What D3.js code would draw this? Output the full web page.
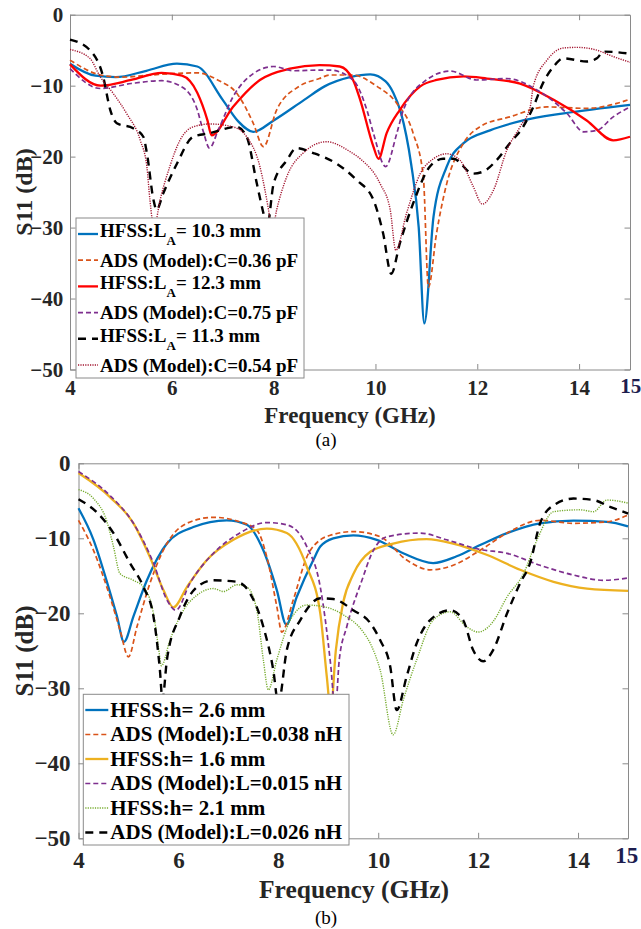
<!DOCTYPE html>
<html>
<head>
<meta charset="utf-8">
<script src="https://cdn.jsdelivr.net/npm/d3@7"></script>
<style>
body { margin: 0; background: #fff; }
svg { display: block; }
text { font-family: "Liberation Serif", "Times New Roman", serif; }
</style>
</head>
<body>
<script>
// ---- data: [frequency GHz, S11 dB] ----
var xTicks = [4, 6, 8, 10, 12, 14];
var yTicks = [-50, -40, -30, -20, -10, 0];

// panel (a)
var a_hfss103 = [[4,-6.9],[4.5,-8.6],[4.9,-8.8],[5.5,-7.9],[6.1,-6.9],[6.5,-7.3],[7.0,-12],[7.3,-15],[7.6,-16.5],[8.0,-14.9],[8.6,-12],[9.0,-10.1],[9.5,-8.8],[9.9,-8.4],[10.2,-9.4],[10.35,-11],[10.5,-13.8],[10.7,-21],[10.85,-30],[10.96,-43.5],[11.14,-28.5],[11.4,-21.4],[11.73,-18.1],[12.25,-16.3],[12.9,-14.9],[13.7,-13.9],[15,-12.7]];
var a_ads036 = [[4,-6.4],[4.6,-8.5],[5.0,-8.8],[5.6,-8.5],[6.0,-8.3],[6.5,-8.2],[6.9,-9.2],[7.3,-11.3],[7.6,-15.3],[7.8,-18.6],[8.06,-13.4],[8.5,-10.1],[8.9,-9.0],[9.1,-8.5],[9.55,-8.5],[10.03,-10.1],[10.42,-12.5],[10.74,-16.7],[10.94,-22.8],[11.04,-38.4],[11.2,-30.8],[11.4,-23.8],[11.73,-18.1],[12.05,-15.8],[12.64,-14.4],[13.37,-13.0],[14.15,-13.2],[14.74,-12.5],[15,-11.9]];
var a_hfss123 = [[4,-7],[4.6,-10],[5.2,-9.2],[5.8,-8.2],[6.2,-8.6],[6.5,-11],[6.7,-14.9],[6.78,-17],[7.2,-13],[7.73,-9.2],[8.32,-7.6],[8.9,-7.1],[9.3,-7.3],[9.56,-9.2],[9.7,-12],[9.96,-18.6],[10.06,-20.3],[10.22,-16.7],[10.48,-13.4],[10.88,-10.1],[11.2,-9.2],[11.73,-8.7],[12.19,-9.0],[12.84,-9.7],[13.5,-12],[14.15,-14.9],[14.67,-17.7],[15,-17.2]];
var a_ads075 = [[4,-7.6],[4.6,-10.4],[5.2,-9.7],[5.8,-9.3],[6.2,-10.2],[6.5,-13.4],[6.62,-16.5],[6.74,-18.8],[6.91,-16.3],[7.2,-11.6],[7.6,-8.3],[8.0,-7.3],[8.39,-7.9],[8.9,-7.8],[9.1,-7.8],[9.56,-9.2],[9.83,-13.4],[9.96,-16.7],[10.2,-21.4],[10.42,-16.7],[10.55,-13.4],[11.0,-9.2],[11.47,-7.95],[11.99,-9.2],[12.58,-9.0],[13.17,-10.6],[13.76,-13.9],[14.09,-16.5],[14.35,-16.3],[14.67,-14.4],[15,-13.0]];
var a_hfss113 = [[4,-3.5],[4.39,-5.0],[4.65,-8.7],[4.79,-13.4],[4.92,-15.3],[5.24,-16],[5.44,-17.2],[5.51,-19.5],[5.64,-26.1],[5.7,-27.5],[5.83,-25.2],[6.1,-21],[6.42,-17.2],[6.75,-16.7],[7.27,-15.8],[7.47,-17.2],[7.67,-23.8],[7.8,-28],[7.87,-30],[8.0,-23.8],[8.26,-20.5],[8.45,-18.8],[8.78,-19.5],[9.24,-21],[9.63,-23.3],[9.96,-26.1],[10.15,-30.8],[10.31,-36.5],[10.48,-32.2],[10.74,-26.6],[11.07,-21.4],[11.33,-20.3],[11.53,-20.3],[11.92,-22.4],[12.12,-22.1],[12.38,-20.5],[12.64,-18.1],[12.9,-15.8],[13.1,-13],[13.3,-9.5],[13.5,-7.3],[13.69,-6.15],[14.15,-6.6],[14.35,-6.15],[14.48,-5.2],[15,-5.5]];
var a_ads054 = [[4,-4.9],[4.39,-6.15],[4.59,-8.7],[4.85,-11.1],[5.11,-13.9],[5.38,-17.7],[5.51,-21.4],[5.57,-26.1],[5.65,-30],[5.77,-26.1],[5.96,-21.4],[6.16,-17.7],[6.42,-15.8],[6.75,-15.4],[7.2,-15.8],[7.47,-17.2],[7.73,-21.4],[7.9,-27.5],[7.97,-30.5],[8.06,-27.5],[8.26,-22.8],[8.58,-19.5],[9.04,-17.9],[9.5,-19.3],[9.7,-20.3],[10.09,-23.8],[10.29,-27.5],[10.4,-33.2],[10.61,-28],[10.88,-22.4],[11.14,-20.3],[11.4,-19.6],[11.66,-20.5],[11.92,-24.2],[12.1,-26.7],[12.32,-24.7],[12.58,-19.1],[12.84,-15.8],[13.04,-13],[13.1,-10.1],[13.37,-6.4],[13.69,-4.7],[13.95,-4.6],[14.35,-5.0],[14.67,-5.9],[15,-6.7]];
var a_labels = ["HFSS:L_A= 10.3 mm", "ADS (Model):C=0.36 pF", "HFSS:L_A= 12.3 mm",
                "ADS (Model):C=0.75 pF", "HFSS:L_A= 11.3 mm", "ADS (Model):C=0.54 pF"];

// panel (b)
var b_hfss26 = [[4,-6],[4.3,-10.2],[4.56,-15.6],[4.77,-20.4],[4.91,-23.8],[5.1,-20.4],[5.37,-15.6],[5.77,-10.7],[6.3,-8.5],[6.97,-7.6],[7.37,-8.2],[7.7,-11.6],[7.97,-16.9],[8.16,-21.5],[8.37,-17.8],[8.7,-12.9],[8.84,-11.1],[9.1,-10],[9.5,-9.6],[9.97,-10.2],[10.5,-12],[11.1,-13.3],[11.57,-12.4],[12.04,-10.9],[12.58,-9.3],[13.24,-8.0],[13.91,-7.65],[14.58,-7.8],[15,-8.4]];
var b_ads038 = [[4,-7.6],[4.3,-11.6],[4.63,-17.8],[4.83,-22.2],[5.0,-25.8],[5.17,-21.8],[5.43,-16],[5.77,-10.7],[6.17,-8.0],[6.7,-7.2],[7.23,-7.8],[7.57,-8.9],[7.77,-12.5],[7.97,-19.1],[8.07,-22.5],[8.3,-18.2],[8.57,-12.5],[8.84,-10.2],[9.04,-9.6],[9.5,-9.1],[10.04,-9.8],[10.57,-12.9],[11.04,-14.2],[11.5,-13.6],[12.04,-11.6],[12.58,-9.3],[13.24,-7.6],[13.91,-8.0],[14.58,-7.8],[15,-6.9]];
var b_hfss16 = [[4,-1.3],[4.63,-4.5],[5.1,-8],[5.43,-12.5],[5.7,-16.9],[5.9,-19.2],[6.17,-16.5],[6.57,-12.9],[7.1,-10.2],[7.77,-8.7],[8.17,-9.3],[8.57,-13.8],[8.84,-20],[8.97,-28.4],[9.05,-33],[9.15,-25],[9.3,-18.5],[9.5,-14.8],[9.84,-11.8],[10.3,-10.7],[10.97,-10.1],[11.5,-10.7],[12.17,-12.2],[12.84,-14.2],[13.51,-15.8],[14.18,-16.7],[15,-17.0]];
var b_ads015 = [[4,-1.1],[4.63,-4.3],[5.1,-8],[5.5,-13.3],[5.77,-18.2],[5.95,-19.6],[6.23,-16],[6.7,-12],[7.23,-9.3],[7.77,-7.9],[8.17,-8.2],[8.57,-11.1],[8.84,-16.5],[9.05,-27],[9.14,-33],[9.22,-26.2],[9.37,-21.8],[9.7,-15.1],[9.84,-12.5],[10.17,-9.8],[10.84,-9.3],[11.37,-10.2],[12.04,-11.5],[12.58,-12],[13.24,-13.6],[13.91,-14.9],[14.51,-15.6],[15,-15.3]];
var b_hfss21 = [[4,-3.5],[4.3,-4.7],[4.56,-7.6],[4.7,-11.1],[4.83,-14.7],[5.1,-15.6],[5.3,-16.5],[5.5,-20],[5.6,-24.5],[5.66,-27],[5.83,-23.6],[6.1,-19.6],[6.37,-17.6],[6.7,-16.7],[6.9,-17.1],[7.17,-16.2],[7.37,-16.5],[7.57,-19.6],[7.7,-26.2],[7.8,-30.2],[7.97,-26.2],[8.24,-20.9],[8.57,-18.9],[8.9,-19.1],[9.3,-20.2],[9.7,-22.5],[9.84,-24],[10.04,-27.6],[10.3,-36.2],[10.5,-31.6],[10.77,-26.2],[11.1,-20.9],[11.44,-19.8],[11.77,-21.8],[12.0,-22.5],[12.3,-21.1],[12.58,-17.8],[12.91,-14.7],[13.18,-10.2],[13.51,-6.45],[14.04,-6.2],[14.31,-6.45],[14.58,-4.9],[15,-5.3]];
var b_ads026 = [[4,-4.8],[4.36,-6.5],[4.7,-9.3],[5.03,-13.3],[5.3,-16.5],[5.5,-20.4],[5.63,-27.6],[5.68,-31.5],[5.77,-26.2],[6.03,-20.4],[6.37,-16.5],[6.7,-15.6],[7.17,-15.8],[7.43,-17.3],[7.7,-21.8],[7.9,-27.6],[8.0,-32],[8.17,-24.9],[8.44,-20.9],[8.84,-18],[9.1,-18.1],[9.5,-19.6],[9.84,-21.3],[10.04,-23.6],[10.24,-27.1],[10.37,-32.9],[10.57,-28.4],[10.77,-24],[11.04,-20.9],[11.44,-19.6],[11.7,-20.9],[11.9,-24.9],[12.1,-26.4],[12.3,-24.9],[12.58,-20],[12.84,-16],[13.04,-13.3],[13.24,-8],[13.51,-5.6],[13.91,-4.7],[14.31,-4.9],[14.64,-5.8],[15,-6.7]];
var b_labels = ["HFSS:h= 2.6 mm", "ADS (Model):L=0.038 nH", "HFSS:h= 1.6 mm",
                "ADS (Model):L=0.015 nH", "HFSS:h= 2.1 mm", "ADS (Model):L=0.026 nH"];

var width = 641;
var height = 929;

var svg = d3.select("body").append("svg")
            .attr("width", width)
            .attr("height", height);

var panelA = {
    left: 70, right: 630, top: 14.7, bottom: 369.5,
    tickFs: 21, xPad: 10.6, yPad: 6.7,
    fifteen: [630.8, 393],
    xTitle: [350, 423, 23], yTitle: [31.5, 192, 24],
    caption: ["(a)", 326, 446],
    lg: { x: 76, y: 218, w: 228, h: 160, first: 16, step: 26.2, sample: 20, fs: 19 },
    series: [
        { data: a_hfss103, label: a_labels[0], color: "#0072BD", w: 2.3, dash: null },
        { data: a_ads036,  label: a_labels[1], color: "#D95319", w: 1.7, dash: "5,3" },
        { data: a_hfss123, label: a_labels[2], color: "#FF0000", w: 2.3, dash: null },
        { data: a_ads075,  label: a_labels[3], color: "#7E2F8E", w: 1.7, dash: "5,3" },
        { data: a_hfss113, label: a_labels[4], color: "#000000", w: 2.4, dash: "8,6" },
        { data: a_ads054,  label: a_labels[5], color: "#A2142F", w: 1.4, dash: "1.2,1.2" }
    ]
};

var panelB = {
    left: 78.5, right: 628, top: 463.3, bottom: 838.3,
    tickFs: 23, xPad: 13.4, yPad: 8,
    fifteen: [626.7, 863],
    xTitle: [354, 898, 25.5], yTitle: [33.3, 651, 25],
    caption: ["(b)", 326, 924],
    lg: { x: 83.3, y: 694.3, w: 265.7, h: 150.7, first: 15.7, step: 24.5, sample: 23, fs: 21 },
    series: [
        { data: b_hfss26, label: b_labels[0], color: "#0072BD", w: 2.3, dash: null },
        { data: b_ads038, label: b_labels[1], color: "#D95319", w: 1.7, dash: "5,3" },
        { data: b_hfss16, label: b_labels[2], color: "#EDB120", w: 2.3, dash: null },
        { data: b_ads015, label: b_labels[3], color: "#7E2F8E", w: 1.7, dash: "5,3" },
        { data: b_hfss21, label: b_labels[4], color: "#77AC30", w: 1.4, dash: "1.2,1.2" },
        { data: b_ads026, label: b_labels[5], color: "#000000", w: 2.4, dash: "8,6" }
    ]
};

function styleAxis(sel, fs) {
    sel.select(".domain").attr("stroke", "#8a8a8a");
    sel.selectAll(".tick line").attr("stroke", "#8a8a8a");
    sel.selectAll(".tick text")
        .attr("fill", "#262626")
        .attr("font-family", "'Liberation Serif', 'Times New Roman', serif")
        .attr("font-weight", "bold")
        .attr("font-size", fs);
}

function drawPanel(p) {
    var x = d3.scaleLinear().domain([4, 15]).range([p.left, p.right]);
    var y = d3.scaleLinear().domain([-50, 0]).range([p.bottom, p.top]);
    var g = svg.append("g");

    // box + ticks (inward)
    var bottomAx = g.append("g").attr("transform", "translate(0," + p.bottom + ")")
        .call(d3.axisBottom(x).tickValues(xTicks).tickSizeInner(-5.5).tickSizeOuter(0).tickPadding(p.xPad));
    styleAxis(bottomAx, p.tickFs);
    var topAx = g.append("g").attr("transform", "translate(0," + p.top + ")")
        .call(d3.axisTop(x).tickValues(xTicks).tickSizeInner(-5.5).tickSizeOuter(0).tickFormat(""));
    styleAxis(topAx, p.tickFs);
    var leftAx = g.append("g").attr("transform", "translate(" + p.left + ",0)")
        .call(d3.axisLeft(y).tickValues(yTicks).tickSizeInner(-5.5).tickSizeOuter(0).tickPadding(p.yPad));
    styleAxis(leftAx, p.tickFs);
    var rightAx = g.append("g").attr("transform", "translate(" + p.right + ",0)")
        .call(d3.axisRight(y).tickValues(yTicks).tickSizeInner(-5.5).tickSizeOuter(0).tickFormat(""));
    styleAxis(rightAx, p.tickFs);

    // the lone "15" at the right end
    g.append("text")
        .attr("x", p.fifteen[0]).attr("y", p.fifteen[1])
        .attr("text-anchor", "middle")
        .attr("font-weight", "bold")
        .attr("font-size", p.tickFs)
        .attr("fill", "#1d1d4f")
        .text("15");

    // curves
    var line = d3.line()
        .x(function(d) { return x(d[0]); })
        .y(function(d) { return y(d[1]); })
        .curve(d3.curveMonotoneX);

    p.series.forEach(function(s) {
        g.append("path")
            .datum(s.data)
            .attr("d", line)
            .attr("fill", "none")
            .attr("stroke", s.color)
            .attr("stroke-width", s.w)
            .attr("stroke-dasharray", s.dash)
            .attr("stroke-linejoin", "round");
    });

    // axis titles
    g.append("text")
        .attr("x", p.xTitle[0]).attr("y", p.xTitle[1])
        .attr("text-anchor", "middle")
        .attr("font-weight", "bold")
        .attr("font-size", p.xTitle[2])
        .attr("fill", "#262626")
        .text("Frequency (GHz)");

    g.append("text")
        .attr("transform", "translate(" + p.yTitle[0] + "," + p.yTitle[1] + ") rotate(-90)")
        .attr("text-anchor", "middle")
        .attr("font-weight", "bold")
        .attr("font-size", p.yTitle[2])
        .attr("fill", "#262626")
        .text("S11 (dB)");

    g.append("text")
        .attr("x", p.caption[1]).attr("y", p.caption[2])
        .attr("text-anchor", "middle")
        .attr("font-size", 19)
        .attr("fill", "#000")
        .text(p.caption[0]);

    // legend
    var L = p.lg;
    var lg = g.append("g");
    lg.append("rect")
        .attr("x", L.x).attr("y", L.y)
        .attr("width", L.w).attr("height", L.h)
        .attr("fill", "#fff")
        .attr("stroke", "#8a8a8a");

    p.series.forEach(function(s, i) {
        var cy = L.y + L.first + i * L.step;
        lg.append("line")
            .attr("x1", L.x + 2).attr("x2", L.x + 2 + L.sample)
            .attr("y1", cy).attr("y2", cy)
            .attr("stroke", s.color)
            .attr("stroke-width", s.w)
            .attr("stroke-dasharray", s.dash);

        var parts = s.label.split("_");
        var t = lg.append("text")
            .attr("x", L.x + 4 + L.sample)
            .attr("y", cy + (parts.length > 1 ? 3 : 6.5))
            .attr("font-weight", "bold")
            .attr("font-size", L.fs)
            .attr("fill", "#000");
        if (parts.length > 1) {
            t.append("tspan").text(parts[0]);
            t.append("tspan").attr("dy", 8).attr("font-size", 13).text(parts[1].charAt(0));
            t.append("tspan").attr("dy", -8).text(parts[1].slice(1));
        } else {
            t.text(s.label);
        }
    });
}

drawPanel(panelA);
drawPanel(panelB);
</script>
</body>
</html>
